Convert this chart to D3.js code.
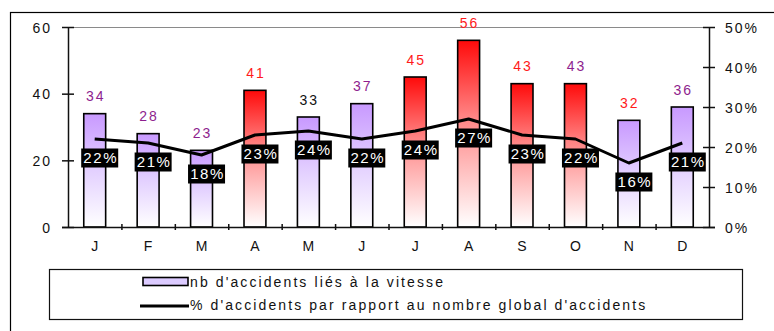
<!DOCTYPE html>
<html>
<head>
<meta charset="utf-8">
<script src="https://cdn.jsdelivr.net/npm/d3@7/dist/d3.min.js"></script>
<style>
  html, body { margin: 0; padding: 0; background: #fff; }
  svg { display: block; font-family: "Liberation Sans", Arial, sans-serif; }
</style>
</head>
<body>
<svg id="chart" width="774" height="331"></svg>
<script>
// Monthly speed-related accidents and their share of all accidents
const months = ["J", "F", "M", "A", "M", "J", "J", "A", "S", "O", "N", "D"];
const speedAccidents = [34, 28, 23, 41, 33, 37, 45, 56, 43, 43, 32, 36];
const shareOfAll = [22, 21, 18, 23, 24, 22, 24, 27, 23, 22, 16, 21]; // percent
const leftTicks = [0, 20, 40, 60];
const rightTicks = [0, 10, 20, 30, 40, 50];
const legendLabels = [
  "nb d'accidents liés à la vitesse",
  "% d'accidents par rapport au nombre global d'accidents"
];

// Months with 40 or more accidents are drawn in red
const HIGH_THRESHOLD = 40;
// Colour of each month's count label
const countLabelColor = ["#8e1e8e", "#8e1e8e", "#8e1e8e", "#ff1a1a", "#111111", "#8e1e8e",
                         "#ff1a1a", "#ff1a1a", "#ff1a1a", "#8e1e8e", "#ff1a1a", "#8e1e8e"];

const svg = d3.select("#chart");
const plot = { left: 68, right: 709, top: 27, bottom: 227 };

// Outer chart frame
svg.append("rect")
  .attr("x", 10.5).attr("y", 12.5)
  .attr("width", 800).attr("height", 400)
  .attr("fill", "none").attr("stroke", "#000").attr("stroke-width", 1.2);

const defs = svg.append("defs");
function vGradient(id, stops) {
  const g = defs.append("linearGradient").attr("id", id)
    .attr("x1", 0).attr("y1", 0).attr("x2", 0).attr("y2", 1);
  stops.forEach(([o, c]) => g.append("stop").attr("offset", o).attr("stop-color", c));
}
vGradient("gradPurple", [[0, "#c899ff"], [0.5, "#e3d0ff"], [1, "#ffffff"]]);
vGradient("gradRed", [[0, "#ff0a0a"], [0.4, "#ff8282"], [1, "#ffffff"]]);

const idx = d3.range(months.length);
const x = d3.scaleBand().domain(idx).range([plot.left, plot.right]);
const xEdge = d3.scaleLinear().domain([0, months.length]).range([plot.left, plot.right]);
const yL = d3.scaleLinear().domain([0, 60]).range([plot.bottom, plot.top]);
const yR = d3.scaleLinear().domain([0, 50]).range([plot.bottom, plot.top]);

// Plot area top border
svg.append("line")
  .attr("x1", plot.left).attr("x2", plot.right)
  .attr("y1", plot.top + 0.5).attr("y2", plot.top + 0.5)
  .attr("stroke", "#8a8a8a").attr("stroke-width", 1.2);

// Bars
const barW = x.bandwidth() * 0.41;
svg.append("g").selectAll("rect")
  .data(idx)
  .join("rect")
  .attr("x", i => x(i) + x.bandwidth() / 2 - barW / 2)
  .attr("y", i => yL(speedAccidents[i]))
  .attr("width", barW)
  .attr("height", i => yL(0) - yL(speedAccidents[i]))
  .attr("fill", i => speedAccidents[i] >= HIGH_THRESHOLD ? "url(#gradRed)" : "url(#gradPurple)")
  .attr("stroke", "#000").attr("stroke-width", 1.6);

// Count labels above bars
svg.append("g").selectAll("text")
  .data(idx)
  .join("text")
  .attr("x", i => x(i) + x.bandwidth() / 2 + 1)
  .attr("y", i => yL(speedAccidents[i]) - 12.5)
  .attr("text-anchor", "middle")
  .attr("font-size", 14).attr("letter-spacing", 2)
  .attr("fill", i => countLabelColor[i])
  .text(i => speedAccidents[i]);

// Axes with crossing tick marks
function crossTicks(g, inner) {
  g.selectAll(".tick line").each(function () {
    const l = d3.select(this);
    ["x2", "y2"].forEach(a => {
      const v = +l.attr(a);
      if (v) l.attr(a === "x2" ? "x1" : "y1", -v * inner);
    });
  });
}

const axisFont = g => g.selectAll("text")
  .attr("font-size", 14).attr("letter-spacing", 2)
  .attr("fill", "#111").attr("font-family", "Liberation Sans, Arial, sans-serif");

const leftAxis = svg.append("g")
  .attr("transform", `translate(${plot.left},0)`)
  .call(d3.axisLeft(yL).tickValues(leftTicks).tickSize(6).tickSizeOuter(0).tickPadding(10));
crossTicks(leftAxis, 1);
leftAxis.call(axisFont);
leftAxis.selectAll("text").attr("dy", "0.36em");

const rightAxis = svg.append("g")
  .attr("transform", `translate(${plot.right},0)`)
  .call(d3.axisRight(yR).tickValues(rightTicks).tickFormat(d => d + "%")
    .tickSize(6).tickSizeOuter(0).tickPadding(10));
crossTicks(rightAxis, 1);
rightAxis.call(axisFont);
rightAxis.selectAll("text").attr("dy", "0.36em");

const bottomAxis = svg.append("g")
  .attr("transform", `translate(0,${plot.bottom})`)
  .call(d3.axisBottom(xEdge).tickValues(d3.range(1, months.length))
    .tickFormat("").tickSize(3).tickSizeOuter(0));
crossTicks(bottomAxis, 1);
bottomAxis.select(".domain").attr("d", `M${plot.left - 6},0.5H${plot.right + 6}`);

const monthAxis = svg.append("g")
  .attr("transform", `translate(0,${plot.bottom})`)
  .call(d3.axisBottom(x).tickFormat(i => months[i]).tickSize(0).tickPadding(14));
monthAxis.select(".domain").remove();
monthAxis.call(axisFont);
monthAxis.selectAll("text").attr("letter-spacing", 0);

[leftAxis, rightAxis, bottomAxis].forEach(g => {
  g.selectAll(".domain, .tick line").attr("stroke", "#111").attr("stroke-width", 1.5);
});

// Share line
const line = d3.line()
  .x(i => x(i) + x.bandwidth() / 2)
  .y(i => yR(shareOfAll[i]));
svg.append("path")
  .datum(idx)
  .attr("d", line)
  .attr("fill", "none")
  .attr("stroke", "#000").attr("stroke-width", 3)
  .attr("stroke-linejoin", "round");

// Percentage labels in black boxes below the line
const pctLabels = svg.append("g").selectAll("g")
  .data(idx)
  .join("g")
  .attr("transform", i => `translate(${x(i) + x.bandwidth() / 2 + 5},${yR(shareOfAll[i]) + 19})`);
pctLabels.append("rect")
  .attr("x", -18.5).attr("y", -9.5).attr("width", 37).attr("height", 19)
  .attr("fill", "#000");
pctLabels.append("text")
  .attr("x", 1).attr("dy", "0.36em")
  .attr("text-anchor", "middle")
  .attr("font-size", 15).attr("letter-spacing", 1.6)
  .attr("fill", "#fff")
  .text(i => shareOfAll[i] + "%");

// Legend
const legend = svg.append("g");
legend.append("rect")
  .attr("x", 49.5).attr("y", 269.5).attr("width", 693).attr("height", 50)
  .attr("fill", "#fff").attr("stroke", "#111").attr("stroke-width", 1.2);
legend.append("rect")
  .attr("x", 143).attr("y", 277.5).attr("width", 45).attr("height", 8)
  .attr("fill", "#dccbff").attr("stroke", "#000").attr("stroke-width", 1.6);
legend.append("line")
  .attr("x1", 140).attr("x2", 189).attr("y1", 306).attr("y2", 306)
  .attr("stroke", "#000").attr("stroke-width", 3);
legend.selectAll("text.lbl")
  .data(legendLabels)
  .join("text")
  .attr("class", "lbl")
  .attr("x", 190)
  .attr("y", (d, i) => 287 + i * 23)
  .attr("font-size", 14).attr("letter-spacing", 2.1)
  .attr("fill", "#111")
  .text(d => d);
</script>
</body>
</html>
